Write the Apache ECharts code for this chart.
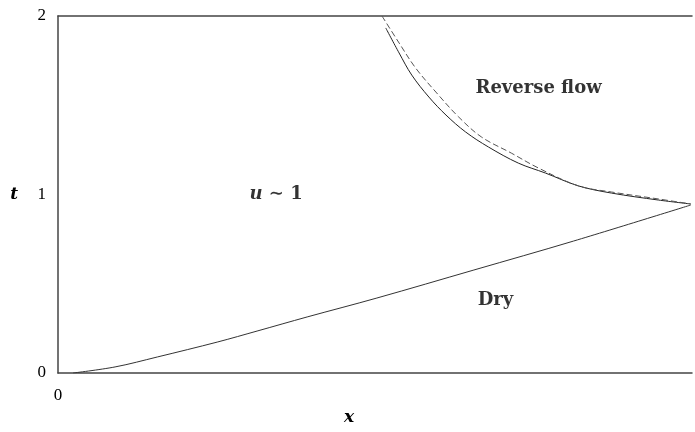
<!DOCTYPE html>
<html><head><meta charset="utf-8">
<script src="https://cdn.jsdelivr.net/npm/echarts@6/dist/echarts.min.js"></script>
<style>html,body{margin:0;padding:0;background:#fff}#c{width:695px;height:432px}</style>
</head><body><div id="c"></div>
<script>
// Dry front (lower curve)
const dryX = [0.024, 0.090, 0.157, 0.252, 0.314, 0.393, 0.503, 0.656, 0.813, 0.998];
const dryT = [0.000, 0.034, 0.090, 0.174, 0.235, 0.314, 0.420, 0.577, 0.739, 0.941];
// Reverse-flow boundary (solid)
const revX = [0.517, 0.538, 0.558, 0.585, 0.612, 0.643, 0.679, 0.726, 0.769, 0.821, 0.873, 0.947, 0.998];
const revT = [1.933, 1.793, 1.669, 1.546, 1.445, 1.350, 1.266, 1.176, 1.120, 1.048, 1.008, 0.969, 0.947];
// Reverse-flow boundary approximation (dashed)
const apxX = [0.511, 0.538, 0.564, 0.596, 0.632, 0.668, 0.715, 0.758, 0.821, 0.873, 0.947, 0.998];
const apxT = [2.000, 1.849, 1.709, 1.574, 1.434, 1.322, 1.232, 1.148, 1.048, 1.014, 0.975, 0.947];
// Region labels
const labelText = ['Reverse flow', 'u∼1', 'Dry'];
const labelX = [0.758, 0.344, 0.690];
const labelT = [1.597, 1.003, 0.409];
const yTicks = [0, 1, 2];
const xTicks = [0];

const zip = (a, b) => a.map((v, i) => [v, b[i]]);
const serif = '"DejaVu Serif", "Liberation Serif", serif';
const chart = echarts.init(document.getElementById('c'), null, {renderer: 'canvas'});
const lineCol = '#444';
const curve = {type: 'line', smooth: 0.35, symbol: 'none'};
chart.setOption({
  animation: false,
  grid: {left: 58, right: 1, top: 16, bottom: 59, show: false},
  xAxis: [{
    type: 'value', min: 0, max: 1, interval: 1,
    name: 'x', nameLocation: 'middle', nameGap: 33,
    nameTextStyle: {fontFamily: serif, fontStyle: 'italic', fontWeight: 'bold', fontSize: 17, color: '#000', padding: [0, 52, 0, 0]},
    axisLine: {show: true, onZero: false, lineStyle: {color: lineCol, width: 1.5}},
    axisTick: {show: false}, splitLine: {show: false},
    axisLabel: {margin: 14, fontFamily: '"Liberation Serif", serif', fontSize: 17, color: '#000',
      formatter: v => xTicks.includes(v) ? String(v) : ''}
  }, {
    type: 'value', position: 'top', min: 0, max: 1,
    axisLine: {show: true, onZero: false, lineStyle: {color: lineCol, width: 1.5}},
    axisTick: {show: false}, axisLabel: {show: false}, splitLine: {show: false}
  }],
  yAxis: {
    type: 'value', min: 0, max: 2, interval: 1,
    name: 't', nameLocation: 'middle', nameGap: 40, nameRotate: 0,
    nameTextStyle: {fontFamily: serif, fontStyle: 'italic', fontWeight: 'bold', fontSize: 17, color: '#000', padding: [0, 0, 18, 0]},
    axisLine: {show: true, onZero: false, lineStyle: {color: lineCol, width: 1.5}},
    axisTick: {show: false}, splitLine: {show: false},
    axisLabel: {margin: 12, fontFamily: '"Liberation Serif", serif', fontSize: 17, color: '#000',
      formatter: v => yTicks.includes(v) ? String(v) : ''}
  },
  series: [
    Object.assign({}, curve, {data: zip(dryX, dryT), lineStyle: {color: '#333', width: 1}}),
    Object.assign({}, curve, {data: zip(revX, revT), lineStyle: {color: '#222', width: 1}}),
    Object.assign({}, curve, {data: zip(apxX, apxT), lineStyle: {color: '#555', width: 1, type: [6, 3]}}),
    {type: 'scatter', symbolSize: 0, silent: true,
      data: labelText.map((t, i) => ({value: [labelX[i], labelT[i]], name: t})),
      label: {show: true, position: 'inside', fontFamily: serif, fontWeight: 'bold', fontSize: 18, color: '#000',
        formatter: p => p.name === 'u∼1' ? '{i|u} {b|∼ 1}' : p.name,
        rich: {i: {fontFamily: serif, fontStyle: 'italic', fontWeight: 'bold', fontSize: 18, color: '#000'},
               b: {fontFamily: serif, fontWeight: 'bold', fontSize: 18, color: '#000'}}}
    }
  ]
});
</script></body></html>
